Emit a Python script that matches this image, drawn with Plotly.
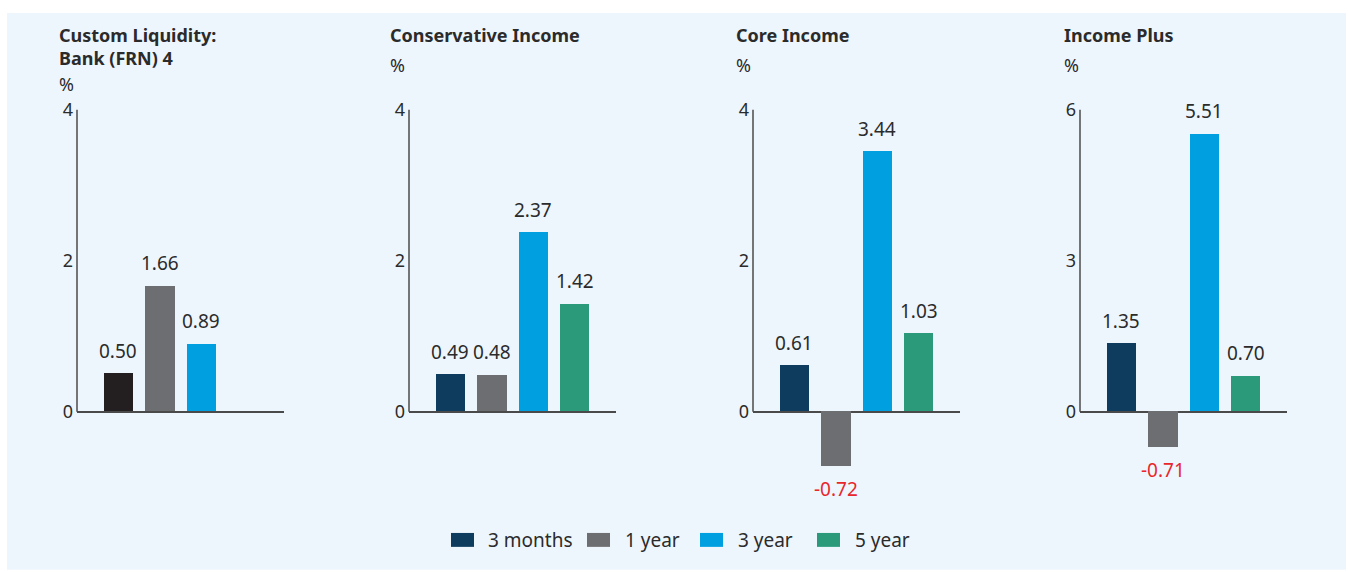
import plotly.graph_objects as go

# ---- data ----
funds = ["Custom Liquidity:<br>Bank (FRN) 4", "Conservative Income", "Core Income", "Income Plus"]
periods = ["3 months", "1 year", "3 year", "5 year"]
three_months = [0.50, 0.49, 0.61, 1.35]
one_year = [1.66, 0.48, -0.72, -0.71]
three_year = [0.89, 2.37, 3.44, 5.51]
five_year = [None, 1.42, 1.03, 0.70]
y_ticks = [[0, 2, 4], [0, 2, 4], [0, 2, 4], [0, 3, 6]]

series = [three_months, one_year, three_year, five_year]

# ---- styles ----
W, H = 1348, 572
FONT = "Noto Sans"
TXT = "#2b2b2b"
NEG = "#e8262c"
AXIS = "#4a4a4a"
period_colors = ["#0d3c5e", "#6d6e71", "#009fe0", "#2a9a7a"]
panel1_first_color = "#231f20"
x_dom_px = [(77, 284), (409, 616), (753, 960), (1080, 1287)]
title_x_px = [57, 388, 734, 1062]
pct_y_px = [81, 62, 62, 62]
title_top_px = 18
top_px, zero_px, bot_px = 107, 411, 490
legend_swatch_x_px = [451, 587, 700, 817]
legend_text_x_px = [486, 623, 736, 853]
legend_y_px = 540

# screen-pixel helpers (calibrated to the rendered page)
Y_OFF, Y_SCALE = 10.0, 0.983

def px_x(p):
    return p / W

def px_y(p):
    page = (p - Y_OFF) / Y_SCALE
    return min(1.0, 1 - page / H)

fig = go.Figure()
annotations = []
shapes = [dict(type="rect", xref="paper", yref="paper",
               x0=px_x(7), x1=px_x(1346), y0=px_y(570), y1=1.0,
               fillcolor="#eef6fd", line=dict(width=0), layer="below")]

for i, fund in enumerate(funds):
    ax = "" if i == 0 else str(i + 1)
    xa, ya = "x" + ax, "y" + ax
    for j, per in enumerate(periods):
        v = series[j][i]
        col = period_colors[j]
        if i == 0 and j == 0:
            col = panel1_first_color
        fig.add_trace(go.Bar(
            x=[j], y=[v], width=0.71, name=per, legendgroup=per,
            showlegend=False, marker=dict(color=col, line=dict(width=0)),
            xaxis=xa, yaxis=ya, hoverinfo="skip"))
        if v is not None:
            annotations.append(dict(
                x=j, y=v, xref=xa, yref=ya, text=f"{v:.2f}", showarrow=False,
                yanchor="bottom" if v >= 0 else "top",
                yshift=8 if v >= 0 else -8,
                font=dict(family=FONT, size=19, color=TXT if v >= 0 else NEG)))
    ymax = max(y_ticks[i])
    d_top, d_zero, d_bot = px_y(top_px), px_y(zero_px), px_y(bot_px)
    ymin = -ymax * (d_zero - d_bot) / (d_top - d_zero)
    x0, x1 = x_dom_px[i]
    fig.layout["xaxis" + ax] = dict(
        domain=[px_x(x0), px_x(x1)], range=[-1, 4], showticklabels=False,
        showgrid=False, zeroline=False, showline=False, fixedrange=True,
        anchor=ya)
    fig.layout["yaxis" + ax] = dict(
        domain=[d_bot, d_top], range=[ymin, ymax],
        tickvals=y_ticks[i], ticktext=[str(t) for t in y_ticks[i]],
        showgrid=False, zeroline=True, zerolinecolor=AXIS, zerolinewidth=1.5,
        showline=False, ticks="", ticklabelstandoff=3,
        tickfont=dict(family=FONT, size=18, color=TXT),
        anchor=xa, fixedrange=True)
    shapes.append(dict(type="line", xref=xa + " domain", yref=ya,
                       x0=0, x1=0, y0=0, y1=ymax,
                       line=dict(color=AXIS, width=1.5)))
    annotations.append(dict(
        x=px_x(title_x_px[i]), y=px_y(title_top_px), xref="paper", yref="paper",
        xanchor="left", yanchor="top", align="left", showarrow=False,
        text=f"<b>{fund}</b>", font=dict(family=FONT, size=18, color=TXT)))
    annotations.append(dict(
        x=px_x(title_x_px[i]), y=px_y(pct_y_px[i]), xref="paper", yref="paper",
        xanchor="left", yanchor="middle", showarrow=False,
        text="%", font=dict(family=FONT, size=18, color=TXT)))

# legend (swatches + labels)
for j, per in enumerate(periods):
    sx = legend_swatch_x_px[j]
    shapes.append(dict(type="rect", xref="paper", yref="paper",
                       x0=px_x(sx), x1=px_x(sx + 23),
                       y0=px_y(legend_y_px + 7), y1=px_y(legend_y_px - 7),
                       fillcolor=period_colors[j], line=dict(width=0)))
    annotations.append(dict(
        x=px_x(legend_text_x_px[j]), y=px_y(legend_y_px), xref="paper", yref="paper",
        xanchor="left", yanchor="middle", showarrow=False, text=per,
        font=dict(family=FONT, size=19, color=TXT)))

fig.update_layout(
    width=W, height=H, margin=dict(l=0, r=0, t=0, b=0),
    paper_bgcolor="white", plot_bgcolor="rgba(0,0,0,0)",
    barmode="overlay", bargap=0, showlegend=False,
    shapes=shapes, annotations=annotations,
    font=dict(family=FONT, color=TXT),
)

fig.write_html(
    "out.html",
    config={"displayModeBar": False},
    post_script=("document.body.style.margin='0';"
                 "document.body.style.overflow='hidden';"
                 "var d=document.querySelector('.plotly-graph-div');"
                 "d.style.position='fixed';d.style.top='0';d.style.left='0';"),
)
